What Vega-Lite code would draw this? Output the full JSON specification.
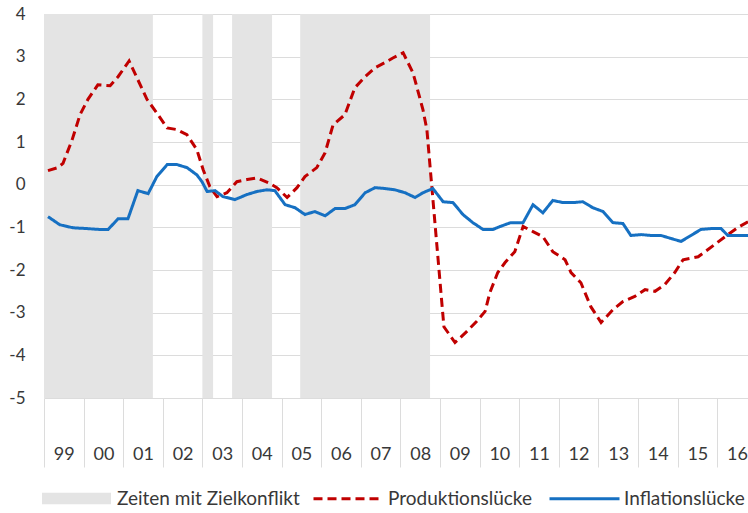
{
  "$schema": "https://vega.github.io/schema/vega-lite/v6.json",
  "width": 704,
  "height": 384,
  "autosize": {"type": "none"},
  "padding": {"left": 44, "top": 14, "right": 0, "bottom": 115},
  "background": "white",
  "config": {
    "view": {"stroke": null},
    "font": "Lato",
    "axis": {"labelFont": "Lato", "labelColor": "#383838"},
    "legend": {"labelFont": "Lato", "labelColor": "#383838", "padding": 0, "labelLimit": 400}
  },
  "resolve": {"axis": {"x": "independent"}},
  "datasets": {
    "bands": [
      {"start": 1999.0, "end": 2001.75, "label": "Zeiten mit Zielkonflikt"},
      {"start": 2003.0, "end": 2003.27, "label": "Zeiten mit Zielkonflikt"},
      {"start": 2003.75, "end": 2004.76, "label": "Zeiten mit Zielkonflikt"},
      {"start": 2005.47, "end": 2008.75, "label": "Zeiten mit Zielkonflikt"}
    ],
    "lines": [
      {"s": "Produktionslücke", "x": 1999.10, "v": 0.33},
      {"s": "Produktionslücke", "x": 1999.35, "v": 0.40},
      {"s": "Produktionslücke", "x": 1999.48, "v": 0.50},
      {"s": "Produktionslücke", "x": 1999.71, "v": 1.05},
      {"s": "Produktionslücke", "x": 1999.91, "v": 1.64},
      {"s": "Produktionslücke", "x": 2000.11, "v": 2.00},
      {"s": "Produktionslücke", "x": 2000.36, "v": 2.34},
      {"s": "Produktionslücke", "x": 2000.67, "v": 2.32},
      {"s": "Produktionslücke", "x": 2000.87, "v": 2.53},
      {"s": "Produktionslücke", "x": 2001.15, "v": 2.90},
      {"s": "Produktionslücke", "x": 2001.35, "v": 2.50},
      {"s": "Produktionslücke", "x": 2001.60, "v": 2.00},
      {"s": "Produktionslücke", "x": 2001.85, "v": 1.68},
      {"s": "Produktionslücke", "x": 2002.11, "v": 1.33},
      {"s": "Produktionslücke", "x": 2002.36, "v": 1.29},
      {"s": "Produktionslücke", "x": 2002.61, "v": 1.17},
      {"s": "Produktionslücke", "x": 2002.86, "v": 0.82},
      {"s": "Produktionslücke", "x": 2003.02, "v": 0.35},
      {"s": "Produktionslücke", "x": 2003.19, "v": -0.05},
      {"s": "Produktionslücke", "x": 2003.37, "v": -0.28},
      {"s": "Produktionslücke", "x": 2003.62, "v": -0.19},
      {"s": "Produktionslücke", "x": 2003.87, "v": 0.07},
      {"s": "Produktionslücke", "x": 2004.13, "v": 0.12},
      {"s": "Produktionslücke", "x": 2004.38, "v": 0.16},
      {"s": "Produktionslücke", "x": 2004.66, "v": 0.05},
      {"s": "Produktionslücke", "x": 2004.88, "v": -0.07},
      {"s": "Produktionslücke", "x": 2005.14, "v": -0.30},
      {"s": "Produktionslücke", "x": 2005.39, "v": -0.07},
      {"s": "Produktionslücke", "x": 2005.59, "v": 0.19},
      {"s": "Produktionslücke", "x": 2005.89, "v": 0.40},
      {"s": "Produktionslücke", "x": 2006.10, "v": 0.75},
      {"s": "Produktionslücke", "x": 2006.30, "v": 1.40},
      {"s": "Produktionslücke", "x": 2006.60, "v": 1.64},
      {"s": "Produktionslücke", "x": 2006.85, "v": 2.27},
      {"s": "Produktionslücke", "x": 2007.11, "v": 2.53},
      {"s": "Produktionslücke", "x": 2007.36, "v": 2.74},
      {"s": "Produktionslücke", "x": 2007.61, "v": 2.86},
      {"s": "Produktionslücke", "x": 2007.81, "v": 2.97},
      {"s": "Produktionslücke", "x": 2008.07, "v": 3.09},
      {"s": "Produktionslücke", "x": 2008.32, "v": 2.62},
      {"s": "Produktionslücke", "x": 2008.57, "v": 1.76},
      {"s": "Produktionslücke", "x": 2008.67, "v": 1.29},
      {"s": "Produktionslücke", "x": 2009.10, "v": -3.33},
      {"s": "Produktionslücke", "x": 2009.38, "v": -3.70},
      {"s": "Produktionslücke", "x": 2009.68, "v": -3.44},
      {"s": "Produktionslücke", "x": 2009.93, "v": -3.20},
      {"s": "Produktionslücke", "x": 2010.14, "v": -2.97},
      {"s": "Produktionslücke", "x": 2010.26, "v": -2.53},
      {"s": "Produktionslücke", "x": 2010.46, "v": -2.06},
      {"s": "Produktionslücke", "x": 2010.64, "v": -1.83},
      {"s": "Produktionslücke", "x": 2010.89, "v": -1.57},
      {"s": "Produktionslücke", "x": 2011.10, "v": -0.98},
      {"s": "Produktionslücke", "x": 2011.35, "v": -1.10},
      {"s": "Produktionslücke", "x": 2011.60, "v": -1.22},
      {"s": "Produktionslücke", "x": 2011.85, "v": -1.57},
      {"s": "Produktionslücke", "x": 2012.16, "v": -1.76},
      {"s": "Produktionslücke", "x": 2012.31, "v": -2.06},
      {"s": "Produktionslücke", "x": 2012.56, "v": -2.30},
      {"s": "Produktionslücke", "x": 2012.81, "v": -2.86},
      {"s": "Produktionslücke", "x": 2013.07, "v": -3.23},
      {"s": "Produktionslücke", "x": 2013.37, "v": -2.93},
      {"s": "Produktionslücke", "x": 2013.62, "v": -2.74},
      {"s": "Produktionslücke", "x": 2013.92, "v": -2.62},
      {"s": "Produktionslücke", "x": 2014.18, "v": -2.46},
      {"s": "Produktionslücke", "x": 2014.43, "v": -2.50},
      {"s": "Produktionslücke", "x": 2014.68, "v": -2.34},
      {"s": "Produktionslücke", "x": 2014.93, "v": -2.06},
      {"s": "Produktionslücke", "x": 2015.14, "v": -1.76},
      {"s": "Produktionslücke", "x": 2015.52, "v": -1.69},
      {"s": "Produktionslücke", "x": 2015.77, "v": -1.52},
      {"s": "Produktionslücke", "x": 2016.20, "v": -1.22},
      {"s": "Produktionslücke", "x": 2016.53, "v": -1.00},
      {"s": "Produktionslücke", "x": 2016.78, "v": -0.87},
      {"s": "Inflationslücke", "x": 1999.10, "v": -0.75},
      {"s": "Inflationslücke", "x": 1999.40, "v": -0.94},
      {"s": "Inflationslücke", "x": 1999.73, "v": -1.01},
      {"s": "Inflationslücke", "x": 2000.09, "v": -1.03},
      {"s": "Inflationslücke", "x": 2000.41, "v": -1.05},
      {"s": "Inflationslücke", "x": 2000.62, "v": -1.05},
      {"s": "Inflationslücke", "x": 2000.87, "v": -0.80},
      {"s": "Inflationslücke", "x": 2001.12, "v": -0.80},
      {"s": "Inflationslücke", "x": 2001.37, "v": -0.14},
      {"s": "Inflationslücke", "x": 2001.63, "v": -0.21},
      {"s": "Inflationslücke", "x": 2001.85, "v": 0.19},
      {"s": "Inflationslücke", "x": 2002.11, "v": 0.47},
      {"s": "Inflationslücke", "x": 2002.36, "v": 0.47},
      {"s": "Inflationslücke", "x": 2002.61, "v": 0.40},
      {"s": "Inflationslücke", "x": 2002.86, "v": 0.23},
      {"s": "Inflationslücke", "x": 2002.99, "v": 0.07},
      {"s": "Inflationslücke", "x": 2003.12, "v": -0.16},
      {"s": "Inflationslücke", "x": 2003.32, "v": -0.14},
      {"s": "Inflationslücke", "x": 2003.52, "v": -0.28},
      {"s": "Inflationslücke", "x": 2003.82, "v": -0.35},
      {"s": "Inflationslücke", "x": 2004.13, "v": -0.23},
      {"s": "Inflationslücke", "x": 2004.38, "v": -0.16},
      {"s": "Inflationslücke", "x": 2004.63, "v": -0.12},
      {"s": "Inflationslücke", "x": 2004.83, "v": -0.14},
      {"s": "Inflationslücke", "x": 2005.09, "v": -0.47},
      {"s": "Inflationslücke", "x": 2005.34, "v": -0.54},
      {"s": "Inflationslücke", "x": 2005.59, "v": -0.70},
      {"s": "Inflationslücke", "x": 2005.84, "v": -0.63},
      {"s": "Inflationslücke", "x": 2006.10, "v": -0.73},
      {"s": "Inflationslücke", "x": 2006.35, "v": -0.56},
      {"s": "Inflationslücke", "x": 2006.60, "v": -0.56},
      {"s": "Inflationslücke", "x": 2006.85, "v": -0.47},
      {"s": "Inflationslücke", "x": 2007.11, "v": -0.19},
      {"s": "Inflationslücke", "x": 2007.36, "v": -0.07},
      {"s": "Inflationslücke", "x": 2007.61, "v": -0.09},
      {"s": "Inflationslücke", "x": 2007.86, "v": -0.12},
      {"s": "Inflationslücke", "x": 2008.12, "v": -0.19},
      {"s": "Inflationslücke", "x": 2008.37, "v": -0.30},
      {"s": "Inflationslücke", "x": 2008.57, "v": -0.19},
      {"s": "Inflationslücke", "x": 2008.82, "v": -0.09},
      {"s": "Inflationslücke", "x": 2009.08, "v": -0.40},
      {"s": "Inflationslücke", "x": 2009.33, "v": -0.42},
      {"s": "Inflationslücke", "x": 2009.58, "v": -0.70},
      {"s": "Inflationslücke", "x": 2009.83, "v": -0.89},
      {"s": "Inflationslücke", "x": 2010.09, "v": -1.05},
      {"s": "Inflationslücke", "x": 2010.34, "v": -1.05},
      {"s": "Inflationslücke", "x": 2010.52, "v": -0.98},
      {"s": "Inflationslücke", "x": 2010.79, "v": -0.89},
      {"s": "Inflationslücke", "x": 2011.10, "v": -0.89},
      {"s": "Inflationslücke", "x": 2011.35, "v": -0.47},
      {"s": "Inflationslücke", "x": 2011.60, "v": -0.66},
      {"s": "Inflationslücke", "x": 2011.85, "v": -0.37},
      {"s": "Inflationslücke", "x": 2012.11, "v": -0.42},
      {"s": "Inflationslücke", "x": 2012.36, "v": -0.42},
      {"s": "Inflationslücke", "x": 2012.61, "v": -0.40},
      {"s": "Inflationslücke", "x": 2012.86, "v": -0.54},
      {"s": "Inflationslücke", "x": 2013.12, "v": -0.63},
      {"s": "Inflationslücke", "x": 2013.37, "v": -0.89},
      {"s": "Inflationslücke", "x": 2013.62, "v": -0.91},
      {"s": "Inflationslücke", "x": 2013.82, "v": -1.19},
      {"s": "Inflationslücke", "x": 2014.08, "v": -1.17},
      {"s": "Inflationslücke", "x": 2014.33, "v": -1.19},
      {"s": "Inflationslücke", "x": 2014.58, "v": -1.19},
      {"s": "Inflationslücke", "x": 2014.83, "v": -1.26},
      {"s": "Inflationslücke", "x": 2015.09, "v": -1.33},
      {"s": "Inflationslücke", "x": 2015.34, "v": -1.19},
      {"s": "Inflationslücke", "x": 2015.59, "v": -1.05},
      {"s": "Inflationslücke", "x": 2015.84, "v": -1.03},
      {"s": "Inflationslücke", "x": 2016.10, "v": -1.03},
      {"s": "Inflationslücke", "x": 2016.27, "v": -1.19},
      {"s": "Inflationslücke", "x": 2016.53, "v": -1.19},
      {"s": "Inflationslücke", "x": 2016.78, "v": -1.19}
    ]
  },
  "layer": [
    {
      "data": {"name": "bands"},
      "mark": {"type": "rect", "clip": true},
      "encoding": {
        "x": {
          "field": "start", "type": "quantitative",
          "scale": {"domain": [1999, 2016.78], "nice": false, "zero": false},
          "axis": {
            "orient": "bottom",
            "values": [1999, 2000, 2001, 2002, 2003, 2004, 2005, 2006, 2007, 2008, 2009, 2010, 2011, 2012, 2013, 2014, 2015, 2016],
            "labels": false,
            "title": null,
            "grid": false,
            "domain": false,
            "tickSize": 69,
            "tickColor": "#dcdcdc",
            "tickWidth": 1
          }
        },
        "x2": {"field": "end"},
        "y": {
          "datum": -5, "type": "quantitative",
          "scale": {"domain": [-5, 4], "nice": false},
          "axis": {
            "values": [-5, -4, -3, -2, -1, 0, 1, 2, 3, 4],
            "labelExpr": "toString(datum.value)",
            "title": null,
            "grid": true,
            "domain": false,
            "ticks": false,
            "labelPadding": 19,
            "labelFontSize": 17,
            "gridColor": "#dcdcdc",
            "gridWidth": 1.2
          }
        },
        "y2": {"datum": 4},
        "fill": {
          "field": "label", "type": "nominal",
          "scale": {"range": ["#e4e4e4"]},
          "legend": {
            "title": null,
            "orient": "none",
            "legendX": -2,
            "legendY": 450,
            "symbolType": "M-1,-0.17H1V0.17H-1Z",
            "symbolSize": 4761,
            "symbolStrokeWidth": 0,
            "labelFontSize": 19,
            "labelOffset": 6
          }
        }
      }
    },
    {
      "mark": {"type": "rule", "color": "#111111", "strokeWidth": 2},
      "encoding": {"y": {"datum": 0, "type": "quantitative"}}
    },
    {
      "data": {"name": "lines"},
      "mark": {"type": "line", "strokeWidth": 3, "clip": true},
      "encoding": {
        "x": {
          "field": "x", "type": "quantitative",
          "axis": {
            "orient": "bottom",
            "values": [1999.5, 2000.5, 2001.5, 2002.5, 2003.5, 2004.5, 2005.5, 2006.5, 2007.5, 2008.5, 2009.5, 2010.5, 2011.5, 2012.5, 2013.5, 2014.5, 2015.5, 2016.5],
            "labelExpr": "slice(toString(floor(datum.value)), 2)",
            "title": null,
            "grid": false,
            "domain": false,
            "ticks": false,
            "labelPadding": 56,
            "labelBaseline": "middle",
            "labelFontSize": 18,
            "labelFlush": false,
            "labelOverlap": false
          }
        },
        "y": {"field": "v", "type": "quantitative"},
        "color": {
          "field": "s", "type": "nominal",
          "scale": {"domain": ["Produktionslücke", "Inflationslücke"], "range": ["#c00000", "#1670c2"]},
          "legend": {
            "title": null,
            "orient": "none",
            "legendX": 268,
            "legendY": 448,
            "direction": "horizontal",
            "symbolType": "stroke",
            "symbolSize": 4900,
            "symbolStrokeWidth": 3,
            "labelFontSize": 19,
            "labelOffset": 3,
            "columnPadding": 10
          }
        },
        "strokeDash": {
          "field": "s", "type": "nominal",
          "scale": {"domain": ["Produktionslücke", "Inflationslücke"], "range": [[9, 5], [1, 0]]},
          "legend": {
            "title": null,
            "orient": "none",
            "legendX": 268,
            "legendY": 448,
            "direction": "horizontal",
            "symbolType": "stroke",
            "symbolSize": 4900,
            "symbolStrokeWidth": 3,
            "labelFontSize": 19,
            "labelOffset": 3,
            "columnPadding": 10
          }
        }
      }
    }
  ]
}
